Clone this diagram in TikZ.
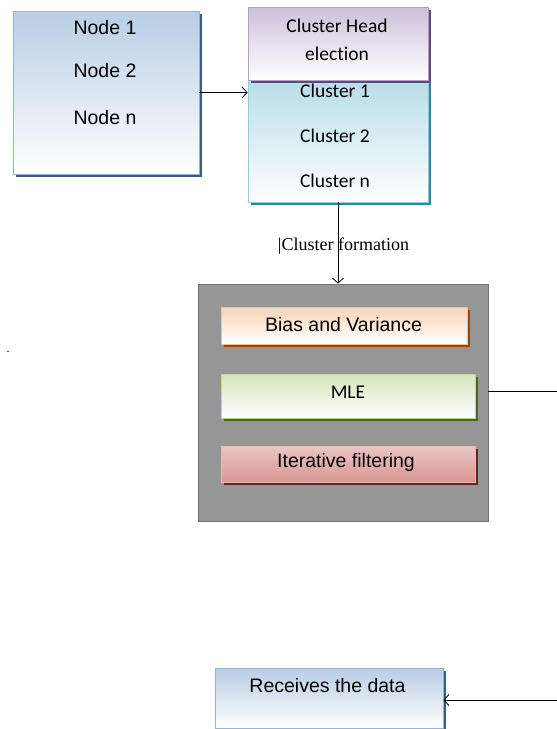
\documentclass[tikz,border=0pt]{standalone}
\usepackage{fontspec}
\usetikzlibrary{positioning,shadows,arrows.meta}
\setmainfont{Liberation Serif}
\newfontfamily\arialfont{Liberation Sans}
\newfontfamily\calfont[Ligatures={NoCommon,NoRare,NoDiscretionary}]{Carlito}
\definecolor{nodeBlue}{RGB}{185,205,229}
\definecolor{nodeBorder}{RGB}{149,179,215}
\definecolor{nodeShadow}{RGB}{56,93,138}
\definecolor{headPurple}{RGB}{204,192,218}
\definecolor{headBorder}{RGB}{178,161,199}
\definecolor{headShadow}{RGB}{95,73,122}
\definecolor{clusterAqua}{RGB}{183,221,232}
\definecolor{clusterBorder}{RGB}{147,205,221}
\definecolor{clusterShadow}{RGB}{49,133,156}
\definecolor{boxGray}{RGB}{150,150,150}
\definecolor{boxGrayBorder}{RGB}{115,115,115}
\definecolor{biasOrange}{RGB}{251,212,180}
\definecolor{biasBorder}{RGB}{250,191,143}
\definecolor{biasShadow}{RGB}{152,72,7}
\definecolor{mleGreen}{RGB}{215,228,189}
\definecolor{mleBorder}{RGB}{194,214,155}
\definecolor{mleShadow}{RGB}{79,98,40}
\definecolor{iterRed}{RGB}{217,150,148}
\definecolor{iterBorder}{RGB}{230,185,184}
\definecolor{iterShadow}{RGB}{99,37,35}
\tikzset{
  box/.style={draw, line width=0.8pt, inner sep=0pt, bottom color=white},
  shade/.style={drop shadow={shadow xshift=2.5pt, shadow yshift=-2.5pt, opacity=1, fill=#1}},
  arialtxt/.style={anchor=base, inner sep=0pt, font=\arialfont\fontsize{19.5}{23}\selectfont},
  caltxt/.style={anchor=base, inner sep=0pt, font=\calfont\fontsize{19.5}{23}\selectfont},
  arr/.style={line width=0.8pt, -{Straight Barb[length=5pt,width=11pt]}}
}
\begin{document}
\begin{tikzpicture}[x=1pt, y=-1pt]
  \useasboundingbox (0,0) rectangle (557,729);

  % sensor nodes
  \node[box, draw=nodeBorder, top color=nodeBlue, shade=nodeShadow, minimum width=186pt, minimum height=163pt] (nodes) at (106,92.5) {};
  \node[arialtxt] (node1) at (105,34.5) {Node 1};
  \node[arialtxt] (node2) at (105,77.5) {Node 2};
  \node[arialtxt] (noden) at (105,124) {Node n};

  % clusters and head election
  \node[box, draw=clusterBorder, top color=clusterAqua, shade=clusterShadow, minimum width=180pt, minimum height=122pt] (cluster) at (338,141) {};
  \node[box, draw=headBorder, top color=headPurple, shade=headShadow, minimum width=180pt, minimum height=73pt] (head) at (338,43.5) {};
  \node[caltxt] (headtxt) at (337,32) {Cluster Head};
  \node[caltxt] (electtxt) at (337,60) {election};
  \node[caltxt] (cl1) at (335,97) {Cluster 1};
  \node[caltxt] (cl2) at (335,142) {Cluster 2};
  \node[caltxt] (cln) at (335,187) {Cluster n};

  % estimation block
  \node[draw=boxGrayBorder, fill=boxGray, line width=0.8pt, minimum width=290pt, minimum height=237pt] (gray) at (343,402.5) {};
  \node[box, draw=biasBorder, top color=biasOrange, shade=biasShadow, minimum width=246pt, minimum height=37pt] (bias) at (344,325.5) {};
  \node[arialtxt] at (343.5,331) {Bias and Variance};
  \node[box, draw=mleBorder, top color=mleGreen, shade=mleShadow, minimum width=254pt, minimum height=44pt] (mle) at (348,396) {};
  \node[caltxt] at (348,398) {MLE};
  \node[box, draw=iterBorder, top color=iterRed!55, bottom color=iterRed, shade=iterShadow, minimum width=254pt, minimum height=36pt] (iter) at (348,464) {};
  \node[arialtxt] at (346,467) {Iterative filtering};

  % sink
  \node[box, draw=nodeBorder, top color=nodeBlue, shade=nodeShadow, minimum width=228pt, minimum height=60pt] (recv) at (329,698) {};
  \node[arialtxt] (recvtxt) at (327.5,692) {Receives the data};

  \node[anchor=base, inner sep=0pt, font=\fontsize{12}{14}\selectfont] (dot) at (8,352) {.};

  % connectors
  \draw[arr] (nodes.east) -- (nodes.east -| cluster.west);
  \draw[arr] (cluster.south) -- (cluster.south |- gray.north);
  \node[anchor=base, inner sep=0pt, font=\fontsize{18}{21}\selectfont] (formlbl) at (343.5,250) {|Cluster formation};
  \coordinate (outA) at (557,391);
  \coordinate (outB) at (557,700);
  \draw[line width=0.8pt] (outA -| gray.east) -- (outA);
  \draw[arr] (outB) -- (outB -| recv.east);
\end{tikzpicture}
\end{document}
